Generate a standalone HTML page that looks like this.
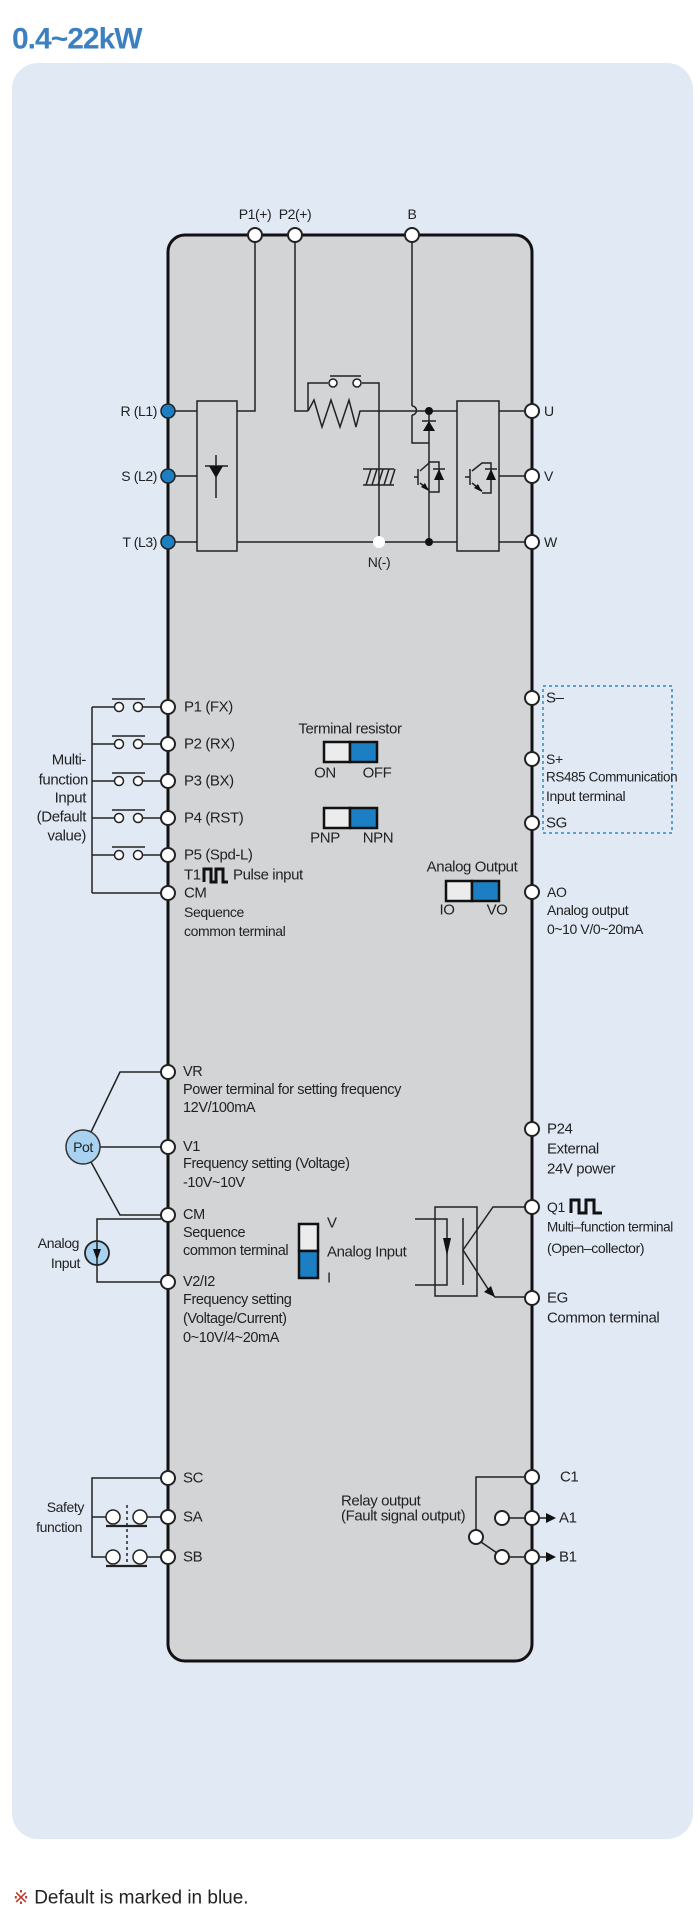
<!DOCTYPE html>
<html><head><meta charset="utf-8">
<style>
html,body{margin:0;padding:0;background:#fff;}
svg{display:block;}
text{font-family:"Liberation Sans Narrow","Liberation Sans",sans-serif;fill:#222;dominant-baseline:central;letter-spacing:-0.4px;}
</style></head><body>
<svg width="700" height="1920" viewBox="0 0 700 1920" xmlns="http://www.w3.org/2000/svg">
<text x="12" y="39" style="font-size:30px;font-weight:bold;fill:#3c80c0;letter-spacing:-1px">0.4~22kW</text>
<rect x="12" y="63" width="681" height="1776" rx="26" fill="#e1e9f5"/>
<text x="13" y="1898" style="font-size:19px;fill:#222;letter-spacing:0">
<tspan fill="#c0392b">※</tspan> Default is marked in blue.</text>

<rect x="168" y="235" width="364" height="1426" rx="17" fill="#d3d4d6" stroke="#111" stroke-width="3"/>

<g stroke="#222" stroke-width="1.5" fill="none">
 <rect x="197" y="401" width="40" height="150" fill="#d3d4d6"/>
 <rect x="457" y="401" width="42" height="150" fill="#d3d4d6"/>
 <line x1="168" y1="411" x2="197" y2="411"/><line x1="168" y1="476" x2="197" y2="476"/><line x1="168" y1="542" x2="197" y2="542"/>
 <polyline points="255,235 255,411 237,411"/>
 <polyline points="295,235 295,411 308,411"/>
 <polyline points="308,411 314,400 322,427 331,400 340,427 349,400 356,427 360,411 429,411 457,411"/>
 <polyline points="308,411 308,383 328,383"/><polyline points="362,383 379,383 379,542"/>
 <line x1="330" y1="376" x2="361" y2="376"/>
 <line x1="237" y1="542" x2="457" y2="542"/>
 <line x1="499" y1="411" x2="532" y2="411"/><line x1="499" y1="476" x2="532" y2="476"/><line x1="499" y1="542" x2="532" y2="542"/>
 <line x1="216" y1="455" x2="216" y2="498"/><line x1="205" y1="466" x2="228" y2="466"/>
 <polyline points="412,235 412,406"/><path d="M412,406 a4,4 0 0 1 0,9"/><polyline points="412,415 412,443 429,443"/>
 <line x1="429" y1="411" x2="429" y2="542"/>
 <line x1="422" y1="421" x2="436" y2="421"/>
 <line x1="418" y1="469" x2="418" y2="485"/><line x1="414" y1="477" x2="418" y2="477"/>
 <polyline points="420,471 429,463 429,462 439,462 439,492 429,492"/><line x1="420" y1="483" x2="429" y2="490"/>
 <line x1="433" y1="469" x2="445" y2="469"/>
 <line x1="470" y1="469" x2="470" y2="485"/><line x1="465" y1="477" x2="470" y2="477"/>
 <polyline points="472,471 482,463 491,463 491,493 482,493"/><line x1="472" y1="483" x2="482" y2="491"/>
 <line x1="485" y1="469" x2="497" y2="469"/>
 <line x1="363" y1="469" x2="394" y2="469"/><line x1="363" y1="485" x2="394" y2="485"/>
 <path d="M366,485 l5,-16 M372,485 l5,-16 M378,485 l5,-16 M384,485 l5,-16 M390,485 l5,-16"/>
</g>
<g fill="#111">
 <polygon points="216,466 209,478 223,478" transform="rotate(180 216 472)"/>
 <polygon points="429,421 423,431 435,431"/>
 <polygon points="439,469 434,480 444,480"/>
 <polygon points="491,469 486,480 496,480"/>
 <polygon points="429,491 421,487 425,483"/>
 <polygon points="482,492 474,488 478,484"/>
 <circle cx="429" cy="411" r="4"/><circle cx="429" cy="542" r="4"/>
</g>
<g fill="#fff" stroke="#222" stroke-width="1.5">
 <circle cx="333" cy="383" r="4"/><circle cx="357" cy="383" r="4"/>
</g>
<circle cx="379" cy="542" r="6" fill="#fff"/>
<g fill="#1c7fc4" stroke="#222" stroke-width="1.5">
 <circle cx="168" cy="411" r="7"/><circle cx="168" cy="476" r="7"/><circle cx="168" cy="542" r="7"/>
</g>
<g fill="#fff" stroke="#222" stroke-width="2">
 <circle cx="255" cy="235" r="7"/><circle cx="295" cy="235" r="7"/><circle cx="412" cy="235" r="7"/>
 <circle cx="532" cy="411" r="7"/><circle cx="532" cy="476" r="7"/><circle cx="532" cy="542" r="7"/>
</g>
<g style="font-size:14px">
 <text x="255" y="214" text-anchor="middle">P1(+)</text>
 <text x="295" y="214" text-anchor="middle">P2(+)</text>
 <text x="412" y="214" text-anchor="middle">B</text>
 <text x="157" y="411" text-anchor="end">R (L1)</text>
 <text x="157" y="476" text-anchor="end">S (L2)</text>
 <text x="157" y="542" text-anchor="end">T (L3)</text>
 <text x="544" y="411">U</text><text x="544" y="476">V</text><text x="544" y="542">W</text>
 <text x="379" y="562" text-anchor="middle">N(-)</text>
</g>

<g stroke="#222" stroke-width="1.5" fill="none">
 <line x1="92" y1="707" x2="92" y2="893"/><line x1="92" y1="893" x2="161" y2="893"/>
 <g id="row"><line x1="92" y1="707" x2="114" y2="707"/><line x1="142" y1="707" x2="161" y2="707"/><line x1="112" y1="699" x2="145" y2="699"/><circle cx="119" cy="707" r="4.5" fill="#fff"/><circle cx="138" cy="707" r="4.5" fill="#fff"/></g>
 <use href="#row" y="37"/><use href="#row" y="74"/><use href="#row" y="111"/><use href="#row" y="148"/>
</g>
<g fill="#fff" stroke="#222" stroke-width="2">
 <circle cx="168" cy="707" r="7"/><circle cx="168" cy="744" r="7"/><circle cx="168" cy="781" r="7"/><circle cx="168" cy="818" r="7"/><circle cx="168" cy="855" r="7"/><circle cx="168" cy="893" r="7"/>
</g>
<g style="font-size:15px">
 <text x="184" y="707">P1 (FX)</text><text x="184" y="744">P2 (RX)</text><text x="184" y="781">P3 (BX)</text><text x="184" y="818">P4 (RST)</text><text x="184" y="855">P5 (Spd-L)</text>
 <text x="184" y="875">T1</text><text x="233" y="875">Pulse input</text>
 <text x="184" y="893">CM</text>
</g>
<path d="M204,882 v-13 h7 v13 h5 v-13 h7 v13 h5" stroke="#111" stroke-width="3" fill="none"/>
<g style="font-size:14px">
 <text x="184" y="912">Sequence</text><text x="184" y="931">common terminal</text>
</g>
<g style="font-size:15px" text-anchor="end">
 <text x="86" y="760">Multi-</text><text x="88" y="780">function</text><text x="86" y="798">Input</text><text x="86" y="817">(Default</text><text x="86" y="836">value)</text>
</g>

<g stroke="#111" stroke-width="2.5">
 <rect x="324" y="742" width="26" height="20" fill="#ececec"/><rect x="350" y="742" width="27" height="20" fill="#1c7fc4"/>
 <rect x="324" y="808" width="26" height="20" fill="#ececec"/><rect x="350" y="808" width="27" height="20" fill="#1c7fc4"/>
 <rect x="446" y="881" width="26" height="20" fill="#ececec"/><rect x="472" y="881" width="27" height="20" fill="#1c7fc4"/>
 <rect x="299" y="1224" width="19" height="27" fill="#ececec"/><rect x="299" y="1251" width="19" height="27" fill="#1c7fc4"/>
</g>
<g style="font-size:15px">
 <text x="350" y="729" text-anchor="middle">Terminal resistor</text>
 <text x="325" y="773" text-anchor="middle">ON</text><text x="377" y="773" text-anchor="middle">OFF</text>
 <text x="325" y="838" text-anchor="middle">PNP</text><text x="378" y="838" text-anchor="middle">NPN</text>
 <text x="472" y="867" text-anchor="middle">Analog Output</text>
 <text x="447" y="910" text-anchor="middle">IO</text><text x="497" y="910" text-anchor="middle">VO</text>
 <text x="327" y="1223">V</text><text x="327" y="1252">Analog Input</text><text x="327" y="1278">I</text>
</g>

<rect x="543" y="686" width="129" height="147" fill="none" stroke="#2a8ccc" stroke-width="1.5" stroke-dasharray="3,3"/>
<g fill="#fff" stroke="#222" stroke-width="2">
 <circle cx="532" cy="698" r="7"/><circle cx="532" cy="759" r="7"/><circle cx="532" cy="823" r="7"/><circle cx="532" cy="892" r="7"/>
 <circle cx="532" cy="1129" r="7"/><circle cx="532" cy="1207" r="7"/><circle cx="532" cy="1298" r="7"/>
</g>
<g style="font-size:14px">
 <text x="546" y="698" style="font-size:15px">S–</text><text x="546" y="759">S+</text>
 <text x="546" y="777" style="font-size:13.5px">RS485 Communication</text><text x="546" y="796">Input terminal</text>
 <text x="546" y="823" style="font-size:15px">SG</text>
 <text x="547" y="892">AO</text><text x="547" y="910">Analog output</text><text x="547" y="929">0~10  V/0~20mA</text>
 <text x="547" y="1129" style="font-size:15px">P24</text><text x="547" y="1149" style="font-size:15px">External</text><text x="547" y="1169" style="font-size:15px">24V power</text>
 <text x="547" y="1207">Q1</text><text x="547" y="1227" style="font-size:13.5px">Multi–function terminal</text><text x="547" y="1248">(Open–collector)</text>
 <text x="547" y="1298" style="font-size:15px">EG</text><text x="547" y="1318" style="font-size:15px">Common terminal</text>
</g>
<path d="M571,1213 v-13 h8 v13 h7 v-13 h8 v13 h8" stroke="#111" stroke-width="3" fill="none"/>

<g stroke="#222" stroke-width="1.5" fill="none">
 <rect x="435" y="1207" width="42" height="89"/>
 <polyline points="415,1219 447,1219 447,1285 415,1285"/>
 <line x1="463" y1="1218" x2="463" y2="1285"/>
 <polyline points="525,1207 493,1207 463,1250 490,1292 495,1297 525,1297"/>
</g>
<polygon points="447,1256 443,1238 451,1238" fill="#111"/>
<polygon points="495,1297 484,1292 491,1286" fill="#111"/>

<g stroke="#222" stroke-width="1.5" fill="none">
 <polyline points="91,1132 120,1072 161,1072"/>
 <line x1="100" y1="1147" x2="161" y2="1147"/>
 <polyline points="91,1162 120,1215 161,1215"/>
 <polyline points="161,1219 97,1219 97,1282 161,1282"/>
</g>
<circle cx="83" cy="1147" r="17" fill="#a8d2ef" stroke="#333" stroke-width="1.5"/>
<text x="83" y="1147" text-anchor="middle" style="font-size:14px">Pot</text>
<circle cx="97" cy="1253" r="12" fill="#a8d2ef" stroke="#222" stroke-width="1.8"/>
<line x1="97" y1="1242" x2="97" y2="1264" stroke="#222" stroke-width="1.5"/>
<polygon points="97,1260 93,1249 101,1249" fill="#111"/>
<g fill="#fff" stroke="#222" stroke-width="2">
 <circle cx="168" cy="1072" r="7"/><circle cx="168" cy="1147" r="7"/><circle cx="168" cy="1215" r="7"/><circle cx="168" cy="1282" r="7"/>
</g>
<g style="font-size:14.5px">
 <text x="183" y="1072">VR</text><text x="183" y="1090" textLength="218" lengthAdjust="spacingAndGlyphs">Power terminal for setting frequency</text><text x="183" y="1108">12V/100mA</text>
 <text x="183" y="1147">V1</text><text x="183" y="1164">Frequency setting (Voltage)</text><text x="183" y="1183">-10V~10V</text>
 <text x="183" y="1215">CM</text><text x="183" y="1233">Sequence</text><text x="183" y="1251">common terminal</text>
 <text x="183" y="1282">V2/I2</text><text x="183" y="1300">Frequency setting</text><text x="183" y="1319">(Voltage/Current)</text><text x="183" y="1338">0~10V/4~20mA</text>
</g>
<g style="font-size:14px" text-anchor="end">
 <text x="79" y="1243">Analog</text><text x="80" y="1263">Input</text>
 <text x="84" y="1507">Safety</text><text x="82" y="1527">function</text>
</g>

<g stroke="#222" stroke-width="1.5" fill="none">
 <polyline points="161,1478 92,1478 92,1557 106,1557"/>
 <line x1="92" y1="1517" x2="106" y2="1517"/>
 <line x1="147" y1="1517" x2="161" y2="1517"/><line x1="147" y1="1557" x2="161" y2="1557"/>
 <line x1="106" y1="1526" x2="147" y2="1526" stroke-width="2.2"/><line x1="106" y1="1566" x2="147" y2="1566" stroke-width="2.2"/>
 <line x1="127" y1="1505" x2="127" y2="1566" stroke-dasharray="3,3"/>
 <circle cx="113" cy="1517" r="7" fill="#fff"/><circle cx="140" cy="1517" r="7" fill="#fff"/>
 <circle cx="113" cy="1557" r="7" fill="#fff"/><circle cx="140" cy="1557" r="7" fill="#fff"/>
</g>
<g fill="#fff" stroke="#222" stroke-width="2">
 <circle cx="168" cy="1478" r="7"/><circle cx="168" cy="1517" r="7"/><circle cx="168" cy="1557" r="7"/>
</g>
<g style="font-size:15px">
 <text x="183" y="1478">SC</text><text x="183" y="1517">SA</text><text x="183" y="1557">SB</text>
</g>

<g stroke="#222" stroke-width="1.5" fill="none">
 <polyline points="525,1477 476,1477 476,1530"/>
 <line x1="509" y1="1518" x2="525" y2="1518"/><line x1="509" y1="1557" x2="525" y2="1557"/>
 <line x1="481" y1="1542" x2="497" y2="1553"/>
 <line x1="539" y1="1518" x2="548" y2="1518"/><line x1="539" y1="1557" x2="548" y2="1557"/>
</g>
<polygon points="556,1518 546,1513 546,1523" fill="#111"/>
<polygon points="556,1557 546,1552 546,1562" fill="#111"/>
<g fill="#fff" stroke="#222" stroke-width="2">
 <circle cx="476" cy="1537" r="7"/><circle cx="502" cy="1518" r="7"/><circle cx="502" cy="1557" r="7"/>
 <circle cx="532" cy="1477" r="7"/><circle cx="532" cy="1518" r="7"/><circle cx="532" cy="1557" r="7"/>
</g>
<g style="font-size:15px">
 <text x="560" y="1477">C1</text><text x="559" y="1518">A1</text><text x="559" y="1557">B1</text>
 <text x="341" y="1501">Relay output</text><text x="341" y="1516">(Fault signal output)</text>
</g>
</svg>
</body></html>
